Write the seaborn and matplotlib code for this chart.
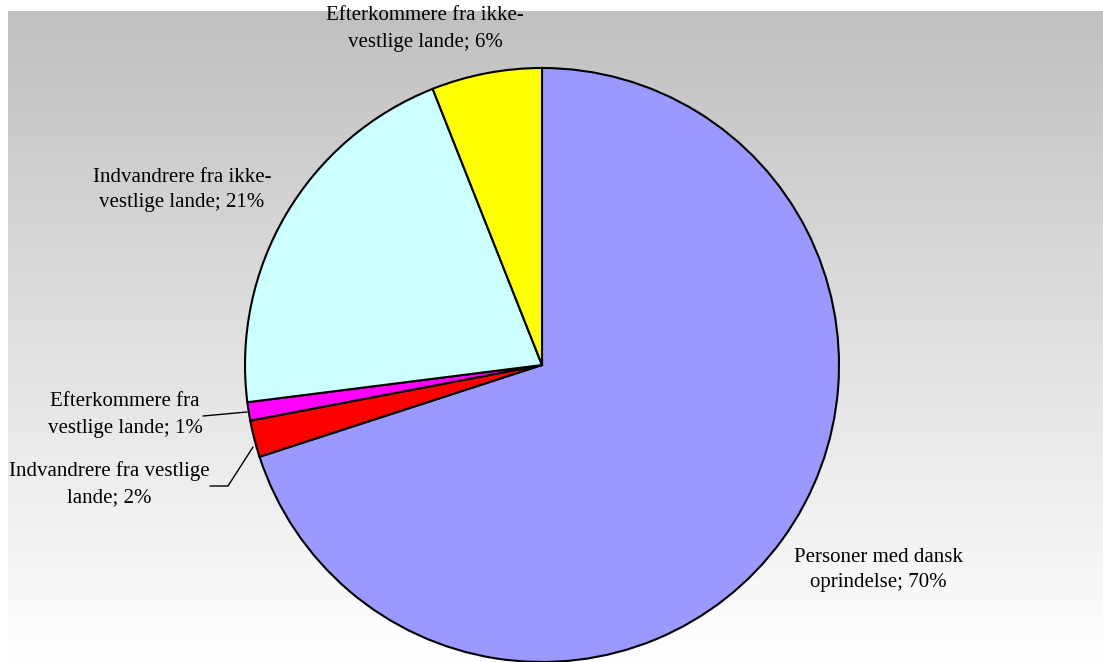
import textwrap
import numpy as np
import matplotlib
matplotlib.use("Agg")
import matplotlib.pyplot as plt
import seaborn as sns

# ---- data ----
categories = [
    "Personer med dansk oprindelse",
    "Indvandrere fra vestlige lande",
    "Efterkommere fra vestlige lande",
    "Indvandrere fra ikke-vestlige lande",
    "Efterkommere fra ikke-vestlige lande",
]
values = [70, 2, 1, 21, 6]
colors = ["#9999FF", "#FF0000", "#FF00FF", "#CCFFFF", "#FFFF00"]

# ---- layout (pixel coords, y measured from top) ----
W, H = 1103, 662
center_px = (542, 365)
radius_px = 297
label_pos_px = [(878, 570), (109, 484), (125, 415), (182, 190), (425, 29)]
leaders_px = [
    None,
    [(253, 447), (228, 486), (210, 486)],
    [(247, 412), (203, 416)],
    None,
    None,
]

sns.set_style("white")
plt.rcParams["font.family"] = ["Liberation Serif", "DejaVu Serif"]

fig = plt.figure(figsize=(W / 100, H / 100), dpi=100)
ax = fig.add_axes([0, 0, 1, 1])

# gradient plot area background
grad = np.linspace(0, 1, 256).reshape(-1, 1)
top = np.array([192, 192, 192]) / 255
bot = np.array([255, 255, 255]) / 255
img = top + (bot - top) * grad[:, :, None]
ax.imshow(img, extent=[8, W, 0, H - 11], origin="upper", aspect="auto", zorder=0)

def fy(y):
    return H - y

ax.pie(values, colors=colors, startangle=90, counterclock=False,
       center=(center_px[0], fy(center_px[1])), radius=radius_px,
       wedgeprops=dict(edgecolor="black", linewidth=1.5), frame=True)
ax.set_xlim(0, W)
ax.set_ylim(0, H)
ax.axis("off")
ax.set_aspect("auto")

for name, v, (lx, ly), lead in zip(categories, values, label_pos_px, leaders_px):
    txt = textwrap.fill(f"{name}; {v}%", width=24, break_on_hyphens=True)
    ax.text(lx, fy(ly), txt, ha="center", va="center", fontsize=15,
            color="black", linespacing=1.5, zorder=5)
    if lead:
        xs = [p[0] for p in lead]
        ys = [fy(p[1]) for p in lead]
        ax.plot(xs, ys, color="black", linewidth=1, zorder=4)

fig.savefig("out.png", dpi=100)
